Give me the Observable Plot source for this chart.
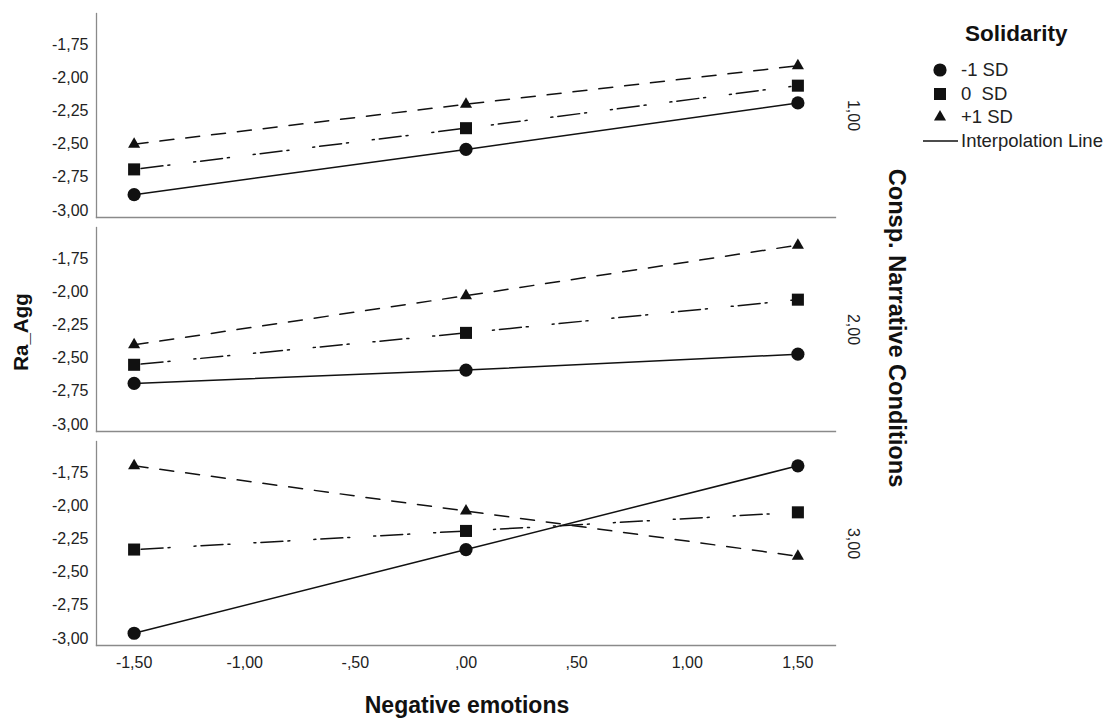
<!DOCTYPE html>
<html>
<head>
<meta charset="utf-8">
<script src="https://cdn.jsdelivr.net/npm/d3@7"></script>
<script src="https://cdn.jsdelivr.net/npm/@observablehq/plot@0.6"></script>
<style>
  html, body { margin: 0; padding: 0; background: #fff; }
  #wrap { position: relative; width: 1109px; height: 721px; font-family: "Liberation Sans", Arial, sans-serif; }
  #chart svg { display: block; }
  .title { position: absolute; font-weight: bold; color: #111; white-space: nowrap; font-size: 23px; }
  #legend { position: absolute; left: 0; top: 0; }
</style>
</head>
<body>
<div id="wrap">
  <div id="chart"></div>
  <div class="title" id="ytitle" style="left:21px; top:332px; transform: translate(-50%,-50%) rotate(-90deg); font-size:20.5px;">Ra_Agg</div>
  <div class="title" id="xtitle" style="left:467px; top:705px; transform: translate(-50%,-50%);">Negative emotions</div>
  <div class="title" id="ftitle" style="left:896px; top:328px; transform: translate(-50%,-50%) rotate(90deg); font-size:23.6px;">Consp. Narrative Conditions</div>
  <svg id="legend" width="1109" height="721"></svg>
</div>
<script>
// ---- data ----
const conditions = [1, 2, 3];                 // Consp. Narrative Conditions
const negEmotions = [-1.5, 0, 1.5];           // x values
const solidarityLevels = ["-1 SD", "0  SD", "+1 SD"];
// Ra_Agg per condition (rows) at each negEmotions value
const lowSolidarity  = [[-2.88, -2.54, -2.19], [-2.69, -2.59, -2.47], [-2.96, -2.33, -1.70]];
const midSolidarity  = [[-2.69, -2.38, -2.06], [-2.55, -2.31, -2.06], [-2.33, -2.19, -2.05]];
const highSolidarity = [[-2.50, -2.20, -1.91], [-2.40, -2.03, -1.65], [-1.70, -2.04, -2.38]];
const xTicks = [-1.5, -1, -0.5, 0, 0.5, 1, 1.5];
const yTicks = [-3, -2.75, -2.5, -2.25, -2, -1.75];
const legendLabels = ["-1 SD", "0  SD", "+1 SD", "Interpolation Line"];
const legendTitle = "Solidarity";

// ---- build table ----
const seriesBy = [lowSolidarity, midSolidarity, highSolidarity];
const rows = [];
solidarityLevels.forEach((lvl, li) => {
  conditions.forEach((c, ci) => {
    negEmotions.forEach((x, xi) => {
      rows.push({level: lvl, cond: c, x, y: seriesBy[li][ci][xi]});
    });
  });
});

const loc = d3.formatLocale({decimal: ",", thousands: ".", grouping: [3], currency: ["", ""], minus: "-"});
const f2 = loc.format(".2f");
const spss = v => f2(Math.abs(v) < 1e-9 ? 0 : v).replace(/^(-?)0,/, "$1,");

const ink = "#111";
const styles = {
  "-1 SD": {dash: null, symbol: "circle", r: 6.6},
  "0  SD": {dash: "2,5,22,5,2,24", symbol: "square", r: 6.8},
  "+1 SD": {dash: "14,12", symbol: "triangle", r: 4.5}
};

const marks = [];
// panel axis lines (left and bottom)
marks.push(Plot.frame({anchor: "left", stroke: "#8a8a8a", strokeWidth: 1.3}));
marks.push(Plot.frame({anchor: "bottom", stroke: "#8a8a8a", strokeWidth: 1.3}));
solidarityLevels.forEach(lvl => {
  const d = rows.filter(r => r.level === lvl);
  const s = styles[lvl];
  marks.push(Plot.line(d, {x: "x", y: "y", fy: "cond", stroke: ink, strokeWidth: 1.5, strokeDasharray: s.dash || undefined}));
});
solidarityLevels.forEach(lvl => {
  const d = rows.filter(r => r.level === lvl);
  const s = styles[lvl];
  marks.push(Plot.dot(d, {x: "x", y: "y", fy: "cond", symbol: () => s.symbol, r: s.r, fill: ink, stroke: "none"}));
});
marks.push(Plot.axisY({ticks: yTicks, tickFormat: spss, tickSize: 0, tickPadding: 8, label: null, fontSize: 16}));
marks.push(Plot.axisX({ticks: xTicks, tickFormat: spss, tickSize: 0, tickPadding: 11, label: null, fontSize: 16}));
marks.push(Plot.text(conditions, {fy: d => d, text: d => spss(d), frameAnchor: "right", textAnchor: "middle", dx: 18, rotate: 90, fontSize: 16, fill: "#222"}));

const chart = Plot.plot({
  width: 1109,
  height: 721,
  marginLeft: 96,
  marginRight: 274,
  marginTop: 12,
  marginBottom: 74,
  style: {fontFamily: "'Liberation Sans', Arial, sans-serif", fontSize: "16px", color: "#222", background: "#fff"},
  x: {domain: [-1.67, 1.67]},
  y: {domain: [-3.052, -1.517]},
  fy: {domain: conditions, padding: 0.0465, axis: null},
  symbol: {type: "identity"},
  marks
});
document.getElementById("chart").appendChild(chart);

// ---- legend ----
const lg = d3.select("#legend");
lg.append("text").attr("x", 965).attr("y", 41).attr("font-size", 22.5).attr("font-weight", "bold")
  .attr("font-family", "'Liberation Sans', Arial, sans-serif").attr("fill", "#111").text(legendTitle);
const sym = {circle: d3.symbolCircle, square: d3.symbolSquare, triangle: d3.symbolTriangle};
const legendY = [70, 94, 117, 141];
solidarityLevels.forEach((lvl, i) => {
  const s = styles[lvl];
  lg.append("path").attr("transform", `translate(940,${legendY[i]})`)
    .attr("d", d3.symbol(sym[s.symbol], Math.PI * s.r * s.r)()).attr("fill", ink);
});
lg.append("line").attr("x1", 923).attr("x2", 958).attr("y1", legendY[3]).attr("y2", legendY[3]).attr("stroke", ink).attr("stroke-width", 1.3);
legendLabels.forEach((t, i) => {
  lg.append("text").attr("x", 961).attr("y", legendY[i]).attr("dy", "0.35em").attr("font-size", 18.5)
    .attr("font-family", "'Liberation Sans', Arial, sans-serif").attr("fill", "#222")
    .attr("xml:space", "preserve").style("white-space", "pre").text(t);
});
</script>
</body>
</html>
